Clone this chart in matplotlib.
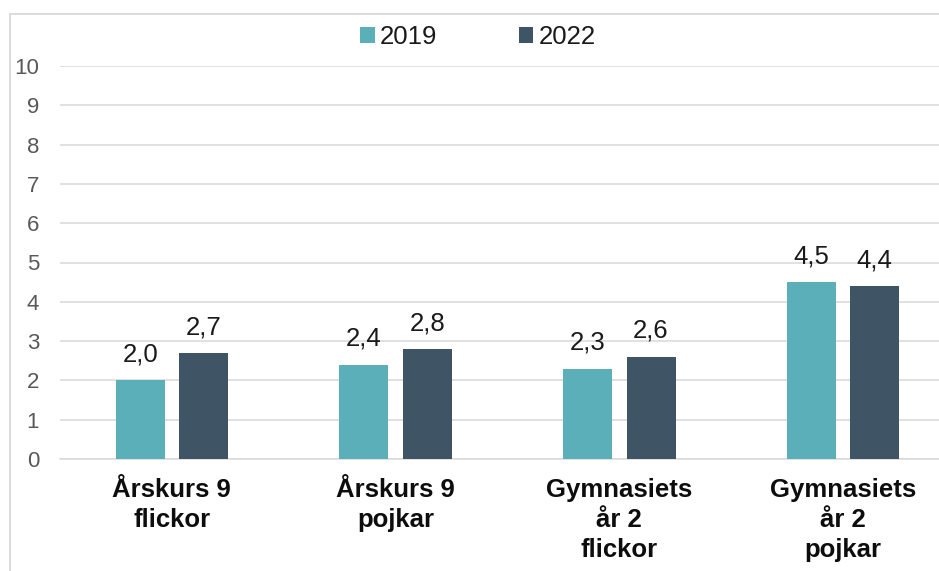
import matplotlib
matplotlib.use("Agg")
import matplotlib.pyplot as plt
from matplotlib.lines import Line2D
import numpy as np

categories = ["Årskurs 9\nflickor", "Årskurs 9\npojkar", "Gymnasiets\når 2\nflickor", "Gymnasiets\når 2\npojkar"]
series_names = ["2019", "2022"]
values_2019 = [2.0, 2.4, 2.3, 4.5]
values_2022 = [2.7, 2.8, 2.6, 4.4]
yticks = list(range(0, 11))

plt.rcParams['font.family'] = ['Liberation Sans', 'DejaVu Sans']

W, H = 939, 571
fig = plt.figure(figsize=(W / 100, H / 100), dpi=100)
fig.patch.set_facecolor('white')

left_px, right_px = 60, 955
bottom_px, top_px = 459, 66
ax = fig.add_axes([left_px / W, 1 - bottom_px / H, (right_px - left_px) / W, (bottom_px - top_px) / H])

col19 = '#5BAFB8'
col22 = '#3F5464'
x = np.arange(len(categories))
bw = 0.219
off = 0.1415
b1 = ax.bar(x - off, values_2019, bw, color=col19, label=series_names[0], zorder=3)
b2 = ax.bar(x + off, values_2022, bw, color=col22, label=series_names[1], zorder=3)

for bars, vals in ((b1, values_2019), (b2, values_2022)):
    for r, v in zip(bars, vals):
        ax.annotate(f"{v:.1f}".replace('.', ','), (r.get_x() + r.get_width() / 2, v),
                    xytext=(0, 10), textcoords='offset points', ha='center', va='bottom',
                    fontsize=18.5, color='#1a1a1a')

ax.set_xlim(-0.5, len(categories) - 0.5)
ax.set_ylim(0, 10)
ax.set_yticks(yticks)
ax.set_yticklabels([str(t) for t in yticks])
ax.set_xticks(x)
ax.set_xticklabels(categories, fontsize=18.5, fontweight='bold', color='#0d0d0d', linespacing=1.3)
ax.tick_params(axis='y', length=0, pad=15, labelsize=16, labelcolor='#595959')
ax.tick_params(axis='x', length=0, pad=14)
ax.grid(axis='y', color='#D9D9D9', linewidth=1.1, zorder=0)
for s in ('left', 'right', 'top'):
    ax.spines[s].set_visible(False)
ax.spines['bottom'].set_color('#D9D9D9')
ax.spines['bottom'].set_linewidth(1.1)
ax.spines['bottom'].set_zorder(1)

leg = fig.legend(loc='center', bbox_to_anchor=(478 / W, 1 - 37 / H), ncol=2, frameon=False,
                 fontsize=18.5, handlelength=0.55, handleheight=0.55, handletextpad=0.2,
                 columnspacing=3.2, borderaxespad=0)
for t in leg.get_texts():
    t.set_color('#1a1a1a')

# outer chart border (cropped at right and bottom)
fig.add_artist(Line2D([9.5 / W, 9.5 / W], [0, 1 - 13.5 / H], transform=fig.transFigure,
                      color='#D9D9D9', linewidth=1.3))
fig.add_artist(Line2D([9.5 / W, 1], [1 - 13.5 / H, 1 - 13.5 / H], transform=fig.transFigure,
                      color='#D9D9D9', linewidth=1.3))

fig.savefig('out.png', dpi=100)
